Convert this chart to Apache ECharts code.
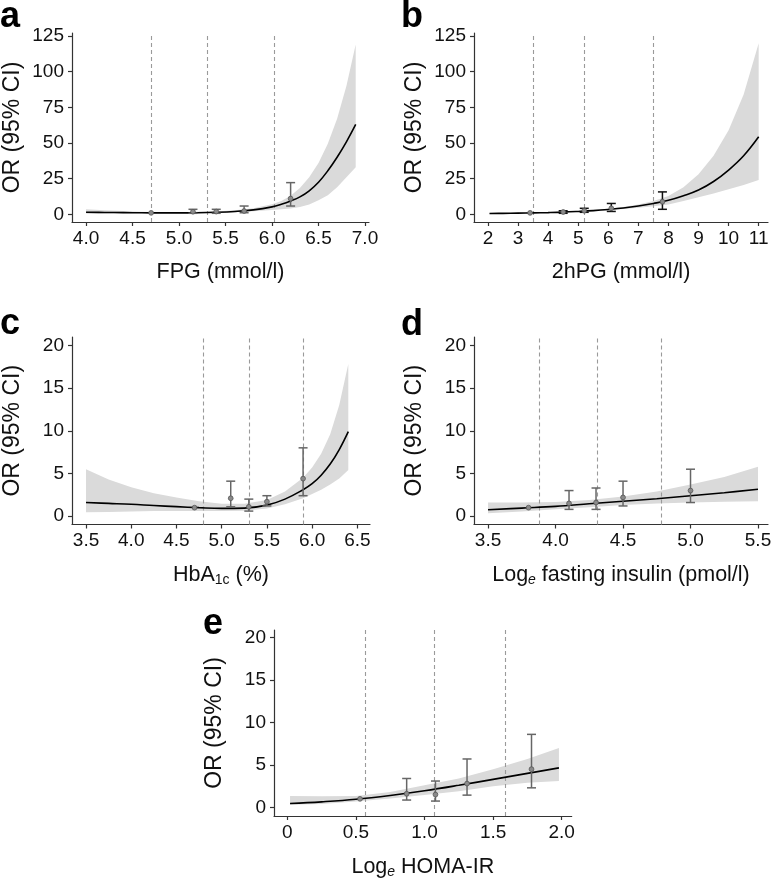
<!DOCTYPE html>
<html>
<head>
<meta charset="utf-8">
<script src="https://cdn.jsdelivr.net/npm/echarts@6/dist/echarts.min.js"></script>
<style>
html,body{margin:0;padding:0;background:#fff;}
#chart{width:776px;height:880px;}
</style>
</head>
<body>
<div id="chart"></div>
<script>
// ---------- DATA ----------
// Panel a: FPG
const aX  = [4.0,4.2,4.4,4.6,4.8,5.0,5.2,5.4,5.6,5.8,6.0,6.1,6.2,6.3,6.4,6.5,6.6,6.7,6.8,6.9];
const aOR = [1.4,1.3,1.2,1.05,1.0,1.0,1.1,1.4,2.0,3.1,5.2,7.0,9.3,12.2,16.5,22.5,30.5,40,50.8,63];
const aHi = [3.5,2.9,2.3,1.7,1.4,1.5,1.7,2.0,2.8,4.3,7.0,9.3,13,18.5,26,36,49.5,67,90,119];
const aLo = [0.5,0.6,0.7,0.75,0.75,0.7,0.75,1.0,1.4,2.1,3.0,3.5,4.0,5.1,6.8,9.8,13.3,19,26,33];
const aPts = [[4.7,1.0,1.0,1.0],[5.15,1.8,0.7,3.5],[5.4,1.9,0.7,3.5],[5.7,2.3,1.1,5.8],[6.2,11,5.8,22.2]];
const aCut = [4.7,5.3,6.02];
const aTicksX = [4.0,4.5,5.0,5.5,6.0,6.5,7.0];
const aTicksY = [0,25,50,75,100,125];

// Panel b: 2hPG
const bX  = [2.05,2.5,3,3.5,4,4.5,5,5.5,6,6.5,7,7.5,8,8.5,9,9.5,10,10.5,11];
const bOR = [0.55,0.65,0.8,1.0,1.2,1.5,2.0,2.6,3.4,4.4,5.8,7.6,9.8,13,17,23,31,41,54.3];
const bHi = [0.8,0.9,1.05,1.2,1.45,1.8,2.3,3.0,3.9,5.1,6.8,9.4,12.9,19,28,41,59,84,120];
const bLo = [0.35,0.45,0.6,0.8,1.0,1.25,1.6,2.2,2.9,3.7,4.6,5.6,6.8,9.3,12,14.5,17.5,20.5,24];
const bPts = [[3.4,1.0,1.0,1.0],[4.5,1.6,0.7,2.5],[5.2,2.5,1.4,4.2],[6.1,4.2,2.0,7.6],[7.8,8.8,3.5,15.7]];
const bCut = [3.5,5.2,7.5];
const bTicksX = [2,3,4,5,6,7,8,9,10,11];
const bTicksY = [0,25,50,75,100,125];

// Panel c: HbA1c
const cX  = [3.5,3.75,4.0,4.25,4.5,4.75,5.0,5.25,5.5,5.7,5.9,6.0,6.1,6.2,6.3,6.4];
const cOR = [1.6,1.5,1.4,1.25,1.12,1.0,0.92,0.95,1.3,2.0,3.1,3.8,4.8,6.1,7.8,9.9];
const cHi = [5.5,4.3,3.4,2.7,2.2,1.75,1.45,1.45,1.9,2.9,4.5,5.7,7.3,9.6,13,17.8];
const cLo = [0.45,0.5,0.55,0.6,0.62,0.62,0.6,0.65,0.9,1.4,2.1,2.6,3.1,3.7,4.4,5.4];
const cPts = [[4.7,1.0,1.0,1.0],[5.1,2.1,1.1,4.1],[5.3,1.1,0.6,2.0],[5.5,1.7,1.2,2.4],[5.9,4.4,2.4,8.0]];
const cCut = [4.8,5.3,5.9];
const cTicksX = [3.5,4.0,4.5,5.0,5.5,6.0,6.5];
const cTicksY = [0,5,10,15,20];

// Panel d: log fasting insulin
const dX  = [3.5,3.75,4.0,4.25,4.5,4.75,5.0,5.25,5.5];
const dOR = [0.75,0.95,1.15,1.45,1.75,2.05,2.4,2.75,3.15];
const dHi = [1.6,1.6,1.65,1.9,2.3,2.9,3.7,4.6,5.8];
const dLo = [0.35,0.55,0.8,1.05,1.3,1.5,1.6,1.7,1.75];
const dPts = [[3.8,1.0,1.0,1.0],[4.1,1.5,0.8,3.0],[4.3,1.6,0.8,3.3],[4.5,2.2,1.2,4.1],[5.0,3.0,1.6,5.5]];
const dCut = [3.875,4.31,4.78];
const dTicksX = [3.5,4.0,4.5,5.0,5.5];
const dTicksY = [0,5,10,15,20];

// Panel e: log HOMA-IR
const eX  = [0.02,0.25,0.5,0.75,1.0,1.25,1.5,1.75,1.98];
const eOR = [0.45,0.65,0.95,1.4,1.95,2.6,3.3,4.0,4.65];
const eHi = [1.35,1.3,1.35,1.8,2.6,3.4,4.5,5.7,7.0];
const eLo = [0.3,0.4,0.7,1.05,1.45,1.9,2.5,2.9,3.1];
const ePts = [[0.53,1.0,1.0,1.0],[0.87,1.6,0.86,3.4],[1.08,1.5,0.74,3.1],[1.31,2.8,1.44,5.7],[1.78,4.5,2.3,8.6]];
const eCut = [0.57,1.07,1.59];
const eTicksX = [0,0.5,1.0,1.5,2.0];
const eTicksY = [0,5,10,15,20];

// ---------- LAYOUT ----------
const FONT = '"Liberation Sans", Arial, Helvetica, sans-serif';
const panels = [
  {lab:'a', X:aX, OR:aOR, HI:aHi, LO:aLo, P:aPts, cut:aCut, tx:aTicksX, ty:aTicksY, fx:v=>v.toFixed(1),
   grid:{left:72, top:33, width:297, height:189}, xr:[3.849,7.043], yr:[-5.4,127.1],
   xname:'FPG (mmol/l)', barColor:'#666', labPos:[0,33]},
  {lab:'b', X:bX, OR:bOR, HI:bHi, LO:bLo, P:bPts, cut:bCut, tx:bTicksX, ty:bTicksY, fx:v=>String(v),
   grid:{left:474, top:33, width:294, height:189}, xr:[1.535,11.31], yr:[-5.4,127.1],
   xname:'2hPG (mmol/l)', barColor:'#111', labPos:[401,33]},
  {lab:'c', X:cX, OR:cOR, HI:cHi, LO:cLo, P:cPts, cut:cCut, tx:cTicksX, ty:cTicksY, fx:v=>v.toFixed(1),
   grid:{left:72, top:337, width:298, height:187.5}, xr:[3.345,6.64], yr:[-0.97,20.97],
   xname:'HbA{sub|1c} (%)', barColor:'#666', labPos:[0,340]},
  {lab:'d', X:dX, OR:dOR, HI:dHi, LO:dLo, P:dPts, cut:dCut, tx:dTicksX, ty:dTicksY, fx:v=>v.toFixed(1),
   grid:{left:474, top:337, width:294, height:187.5}, xr:[3.396,5.574], yr:[-0.97,20.97],
   xname:'Log{sub|e} fasting insulin (pmol/l)', barColor:'#666', labPos:[401,341]},
  {lab:'e', X:eX, OR:eOR, HI:eHi, LO:eLo, P:ePts, cut:eCut, tx:eTicksX, ty:eTicksY, fx:v=>(v===0?'0':v.toFixed(1)),
   grid:{left:274, top:630, width:297.7, height:187.7}, xr:[-0.097,2.073], yr:[-1.02,20.9],
   xname:'Log{sub|e} HOMA-IR', barColor:'#666', labPos:[203,640]}
];

const AXC = '#333';
const TXC = '#111';
const option = {
  animation:false,
  backgroundColor:'#fff',
  textStyle:{fontFamily:FONT},
  grid:[], xAxis:[], yAxis:[], series:[], graphic:[]
};

panels.forEach((p,i)=>{
  option.grid.push(Object.assign({containLabel:false}, p.grid));
  option.xAxis.push({
    type:'value', gridIndex:i, min:p.xr[0], max:p.xr[1],
    splitLine:{show:false},
    axisLine:{show:true, onZero:false, lineStyle:{color:AXC, width:1.2}},
    axisTick:{show:true, length:4, lineStyle:{color:AXC, width:1.2}, customValues:p.tx},
    axisLabel:{show:true, customValues:p.tx, formatter:p.fx, fontSize:19, color:TXC, margin:7, fontFamily:FONT},
    name:p.xname, nameLocation:'middle', nameGap:39,
    nameTextStyle:{fontSize:21.5, color:TXC, fontFamily:FONT,
      rich:{sub:{fontSize:14, padding:[10,0,0,0], fontFamily:FONT, color:TXC, fontStyle: p.lab==='c'?'normal':'italic'}}}
  });
  option.yAxis.push({
    type:'value', gridIndex:i, min:p.yr[0], max:p.yr[1],
    splitLine:{show:false},
    axisLine:{show:true, onZero:false, lineStyle:{color:AXC, width:1.2}},
    axisTick:{show:true, length:4, lineStyle:{color:AXC, width:1.2}, customValues:p.ty},
    axisLabel:{show:true, customValues:p.ty, fontSize:19, color:TXC, margin:8, fontFamily:FONT},
    name:'OR (95% CI)', nameLocation:'middle', nameRotate:90, nameGap:48,
    nameTextStyle:{fontSize:23, color:TXC, fontFamily:FONT}
  });
  // CI band
  option.series.push({
    type:'custom', xAxisIndex:i, yAxisIndex:i, z:1, silent:true,
    data:[[p.X[0], p.LO[0]]],
    renderItem:(params, api)=>{
      const up = p.X.map((x,k)=>api.coord([x,p.HI[k]]));
      const dn = p.X.map((x,k)=>api.coord([x,p.LO[k]])).reverse();
      return {type:'polygon', shape:{points:up.concat(dn)}, style:{fill:'#dadada', stroke:null}};
    }
  });
  // fitted curve + cut-point dashed lines
  option.series.push({
    type:'line', xAxisIndex:i, yAxisIndex:i, z:3, silent:true,
    data:p.X.map((x,k)=>[x,p.OR[k]]), smooth:0.4, showSymbol:false,
    lineStyle:{color:'#000', width:1.6},
    markLine:{silent:true, symbol:['none','none'], label:{show:false}, z:2,
      lineStyle:{color:'#9a9a9a', width:1.1, type:[4,3]},
      data:p.cut.map(v=>({xAxis:v}))}
  });
  // error bars + points
  option.series.push({
    type:'custom', xAxisIndex:i, yAxisIndex:i, z:4, silent:true,
    data:p.P,
    renderItem:(params, api)=>{
      const x=api.value(0), m=api.value(1), lo=api.value(2), hi=api.value(3);
      const t=api.coord([x,hi]), b=api.coord([x,lo]), c=api.coord([x,m]);
      const w=4.5, col=p.barColor;
      const ch=[];
      if (hi>lo){
        ch.push({type:'line', shape:{x1:t[0],y1:t[1],x2:b[0],y2:b[1]}, style:{stroke:col, lineWidth:1.5}});
        ch.push({type:'line', shape:{x1:t[0]-w,y1:t[1],x2:t[0]+w,y2:t[1]}, style:{stroke:col, lineWidth:1.5}});
        ch.push({type:'line', shape:{x1:b[0]-w,y1:b[1],x2:b[0]+w,y2:b[1]}, style:{stroke:col, lineWidth:1.5}});
      }
      ch.push({type:'circle', shape:{cx:c[0], cy:c[1], r:2.4}, style:{fill:'#8a8a8a', stroke:'#555', lineWidth:0.8}});
      return {type:'group', children:ch};
    }
  });
  option.graphic.push({type:'text', left:p.labPos[0], top:p.labPos[1]-34,
    style:{text:p.lab, font:'bold 36px '+FONT, fill:'#000'}});
});

const chart = echarts.init(document.getElementById('chart'), null, {renderer:'canvas'});
chart.setOption(option);
</script>
</body>
</html>
